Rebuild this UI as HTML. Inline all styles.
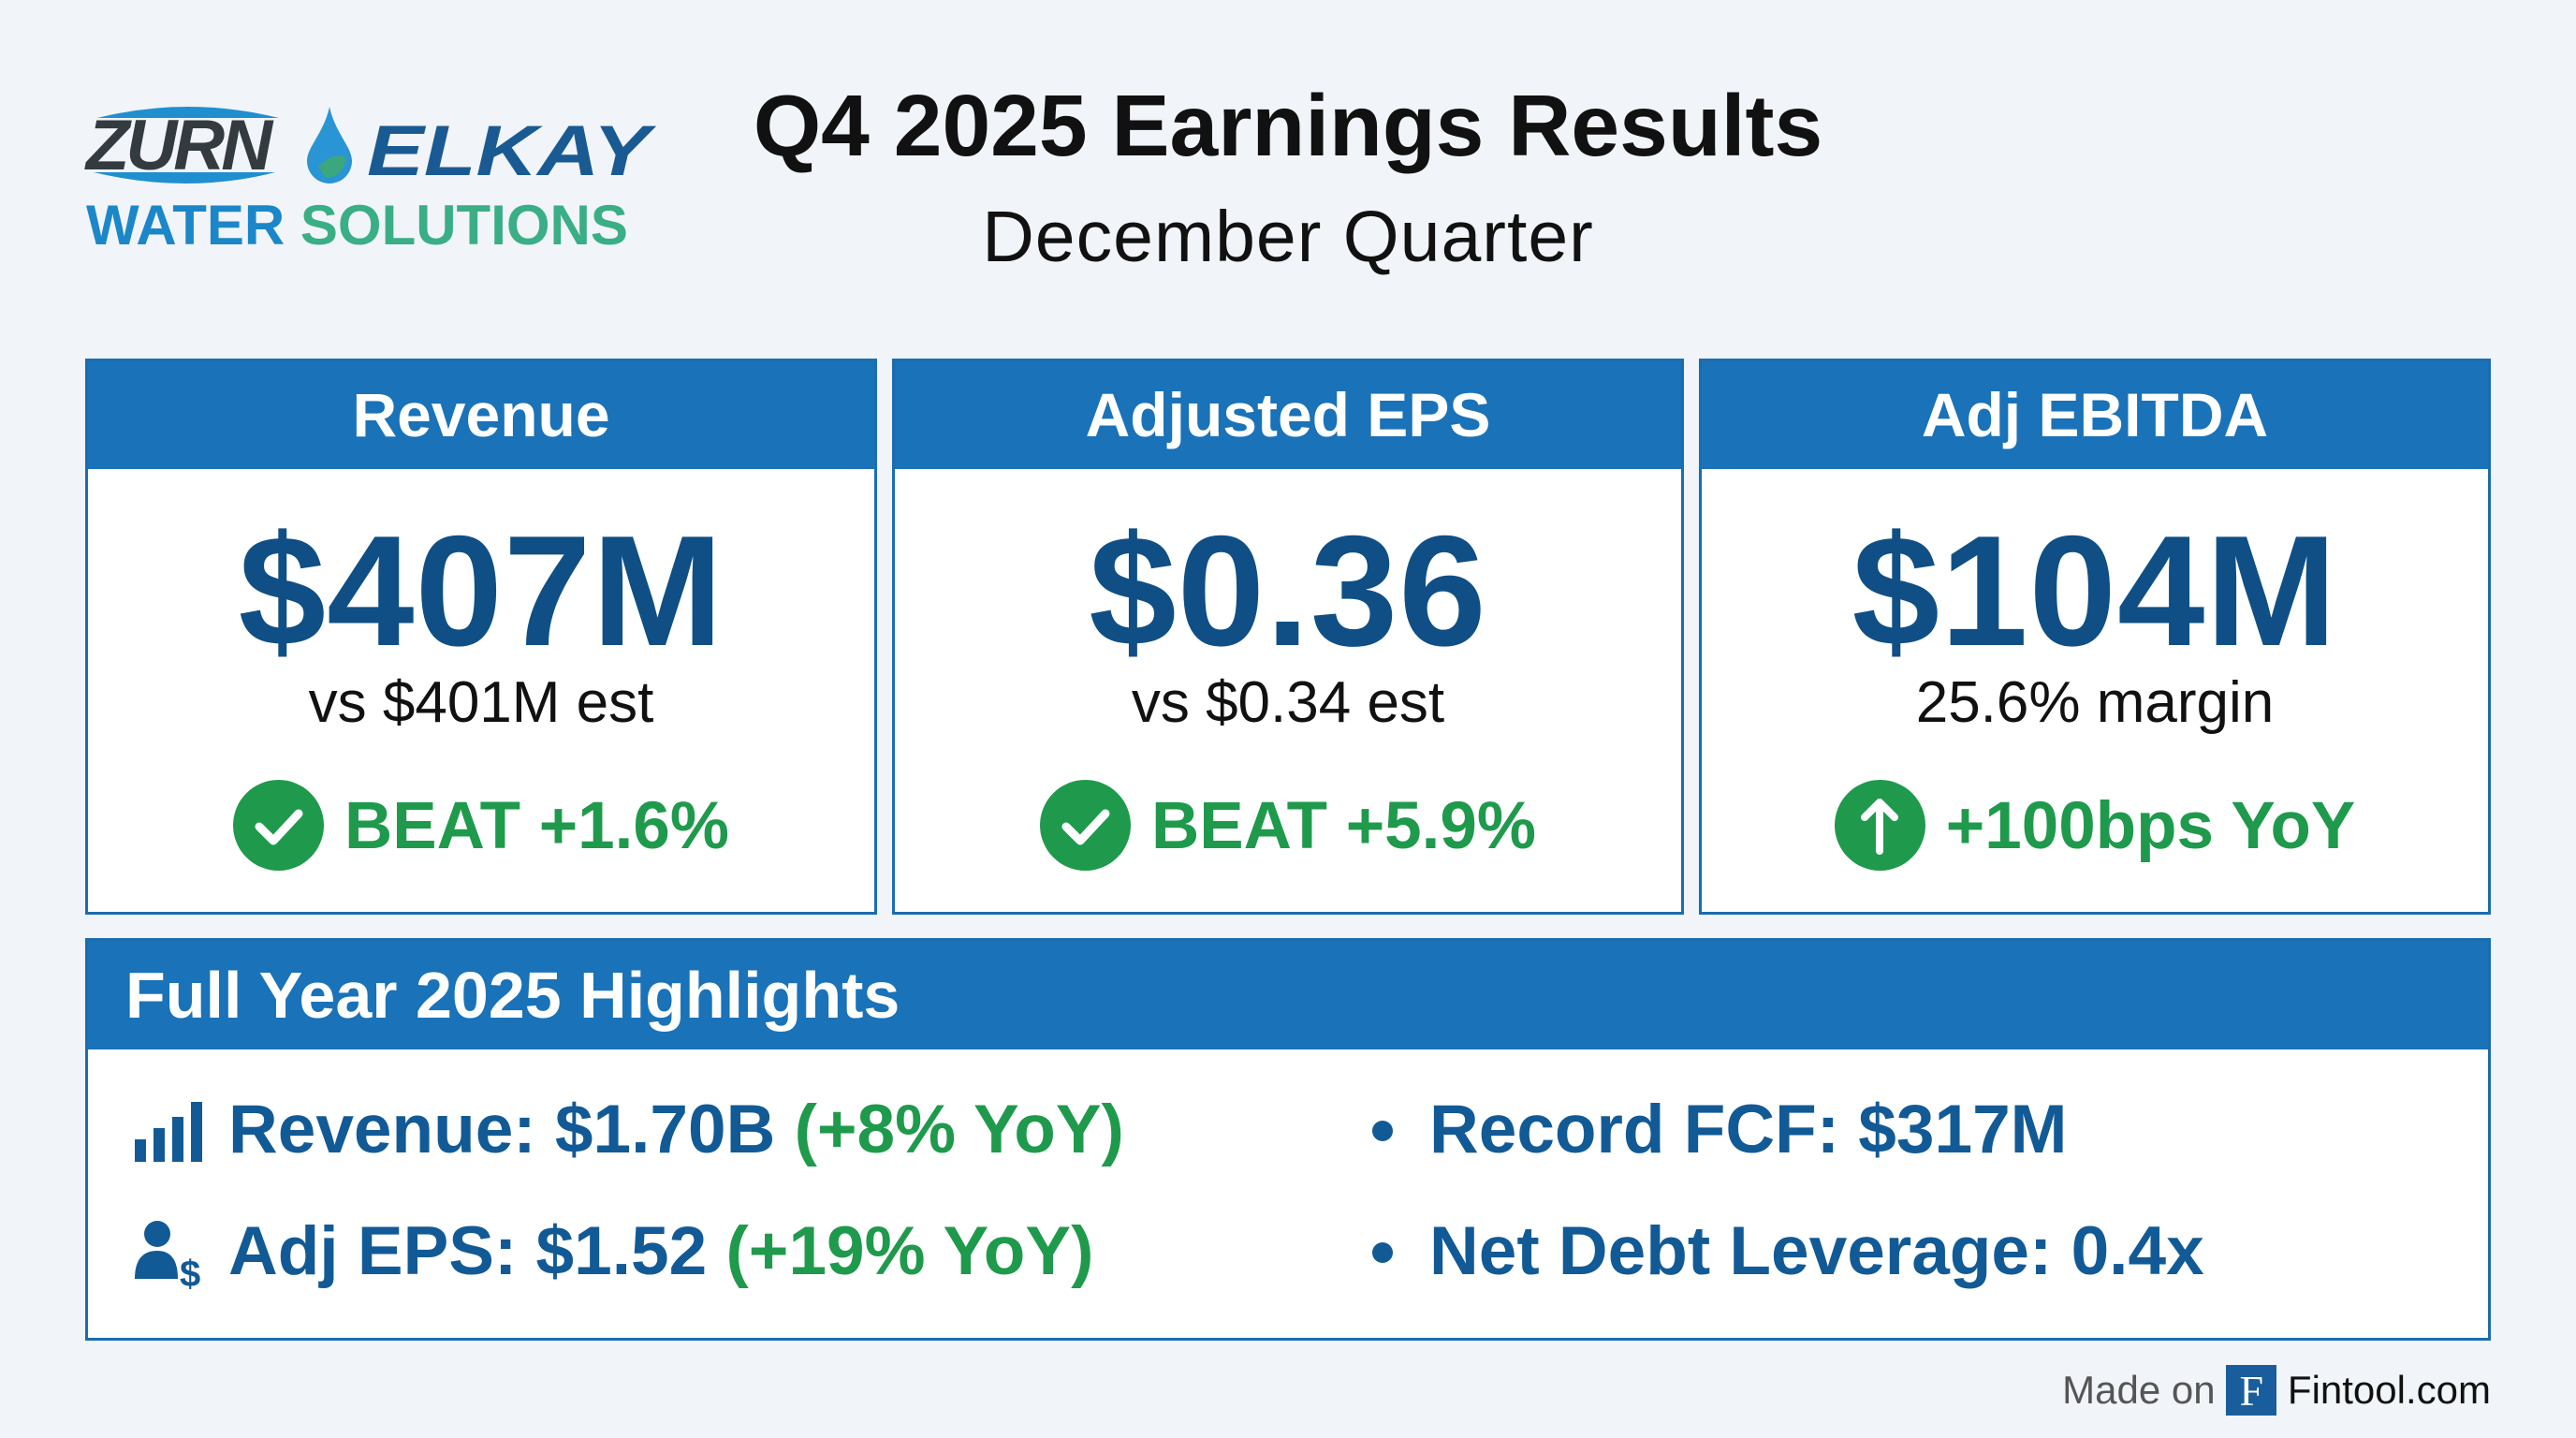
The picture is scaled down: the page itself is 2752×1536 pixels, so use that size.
<!DOCTYPE html>
<html><head><meta charset="utf-8"><style>
*{margin:0;padding:0;box-sizing:border-box}
body{width:2752px;height:1536px;background:#f1f4f8;font-family:"Liberation Sans",Arial,sans-serif;position:relative;overflow:hidden}
.abs{position:absolute}
.card{position:absolute;top:383px;height:594px;background:#fff;border:3px solid #1a6db1}
.card .hd{height:115px;background:#1a72b8;color:#fff;font-weight:bold;font-size:66px;text-align:center;line-height:115px}
.card .val{position:absolute;left:0;right:0;top:150px;text-align:center;font-weight:bold;font-size:168px;color:#0f4f85;line-height:190px;letter-spacing:1px}
.card .sub{position:absolute;left:0;right:0;top:325px;text-align:center;font-size:62px;color:#111;line-height:80px}
.card .beat{position:absolute;left:0;right:0;top:447px;text-align:center;font-weight:bold;font-size:71px;color:#1f9a4c;line-height:100px;white-space:nowrap}
.ic{display:inline-block;width:97px;height:97px;border-radius:50%;background:#1f9a4c;vertical-align:middle;margin-right:22px;position:relative;top:-6px}
.hl{position:absolute;font-weight:bold;font-size:73px;color:#125a96;line-height:100px;white-space:nowrap}
.g{color:#1f9a4c}
</style></head><body>
<!-- logo -->
<div class="abs" style="left:94px;top:110px;width:214px;height:90px">
 <svg width="214" height="90" viewBox="0 0 214 90"><path d="M10 16 Q107 -8 204 16 Z" fill="#1f8fd0"/><path d="M6 74 Q107 98 200 74 Z" fill="#1f8fd0"/></svg>
</div>
<div class="abs" style="left:92px;top:118px;font-weight:bold;font-style:italic;font-size:76px;color:#333a40;letter-spacing:-4px;line-height:76px">ZURN</div>
<div class="abs" style="left:326px;top:112px;width:52px;height:84px">
 <svg width="52" height="84" viewBox="0 0 52 84"><path d="M26 2 C20 30 2 45 2 60 A24 24 0 0 0 50 60 C50 45 32 30 26 2 Z" fill="#2a95d4"/><path d="M14 66 Q30 50 44 56 Q40 78 22 78 Z" fill="#3aa77e"/></svg>
</div>
<div class="abs" style="left:392px;top:124px;font-weight:bold;font-style:italic;font-size:76px;color:#1a5a92;line-height:76px;transform:scaleX(1.2);transform-origin:left center">ELKAY</div>
<div class="abs" style="left:92px;top:206px;font-weight:bold;font-size:60px;line-height:70px;white-space:nowrap"><span style="color:#1b87c8">WATER</span> <span style="color:#3aae85">SOLUTIONS</span></div>
<!-- title -->
<div class="abs" style="left:576px;width:1600px;top:84px;text-align:center;font-weight:bold;font-size:93px;color:#111;line-height:100px">Q4 2025 Earnings Results</div>
<div class="abs" style="left:576px;width:1600px;top:208px;text-align:center;font-size:77px;color:#111;line-height:90px;letter-spacing:1px">December Quarter</div>
<!-- cards -->
<div class="card" style="left:91px;width:846px"><div class="hd">Revenue</div><div class="val">$407M</div><div class="sub">vs $401M est</div>
<div class="beat"><span class="ic"><svg width="97" height="97"><path d="M28 50 L43 65 L70 36" stroke="#fff" stroke-width="9" fill="none" stroke-linecap="round" stroke-linejoin="round"/></svg></span>BEAT +1.6%</div></div>
<div class="card" style="left:953px;width:846px"><div class="hd">Adjusted EPS</div><div class="val">$0.36</div><div class="sub">vs $0.34 est</div>
<div class="beat"><span class="ic"><svg width="97" height="97"><path d="M28 50 L43 65 L70 36" stroke="#fff" stroke-width="9" fill="none" stroke-linecap="round" stroke-linejoin="round"/></svg></span>BEAT +5.9%</div></div>
<div class="card" style="left:1815px;width:846px"><div class="hd">Adj EBITDA</div><div class="val">$104M</div><div class="sub">25.6% margin</div>
<div class="beat"><span class="ic"><svg width="97" height="97"><path d="M48 76 L48 24 M32 40 L48 24 L64 40" stroke="#fff" stroke-width="8" fill="none" stroke-linecap="round" stroke-linejoin="round"/></svg></span>+100bps YoY</div></div>
<!-- highlights -->
<div class="abs" style="left:91px;top:1002px;width:2570px;height:430px;background:#fff;border:3px solid #1a6db1">
 <div style="height:116px;background:#1a72b8;color:#fff;font-weight:bold;font-size:70px;line-height:116px;padding-left:40px">Full Year 2025 Highlights</div>
</div>
<svg class="abs" style="left:144px;top:1177px" width="76" height="64"><rect x="0" y="40" width="12" height="24" fill="#125a96"/><rect x="20" y="28" width="12" height="36" fill="#125a96"/><rect x="40" y="16" width="12" height="48" fill="#125a96"/><rect x="60" y="0" width="12" height="64" fill="#125a96"/></svg>
<svg class="abs" style="left:144px;top:1302px" width="80" height="76"><circle cx="24" cy="16" r="14" fill="#125a96"/><path d="M0 64 Q0 34 24 34 Q46 34 46 64 Z" fill="#125a96"/><text x="48" y="72" font-family="Liberation Sans" font-weight="bold" font-size="40" fill="#125a96">$</text></svg>
<div class="hl" style="left:244px;top:1157px">Revenue: $1.70B <span class="g">(+8% YoY)</span></div>
<div class="hl" style="left:244px;top:1287px">Adj EPS: $1.52 <span class="g">(+19% YoY)</span></div>
<div class="abs" style="left:1466px;top:1197px;width:22px;height:22px;border-radius:50%;background:#125a96"></div>
<div class="abs" style="left:1466px;top:1327px;width:22px;height:22px;border-radius:50%;background:#125a96"></div>
<div class="hl" style="left:1527px;top:1157px">Record FCF: $317M</div>
<div class="hl" style="left:1527px;top:1287px">Net Debt Leverage: 0.4x</div>
<!-- footer -->
<div class="abs" style="right:91px;top:1458px;font-size:42px;line-height:54px;white-space:nowrap;color:#111">
 <span style="color:#555">Made on</span> <span style="display:inline-block;width:54px;height:54px;background:#1a5d9c;color:#fff;font-family:'Liberation Serif',serif;font-size:46px;text-align:center;vertical-align:top;line-height:56px">F</span> Fintool.com
</div>
</body></html>
